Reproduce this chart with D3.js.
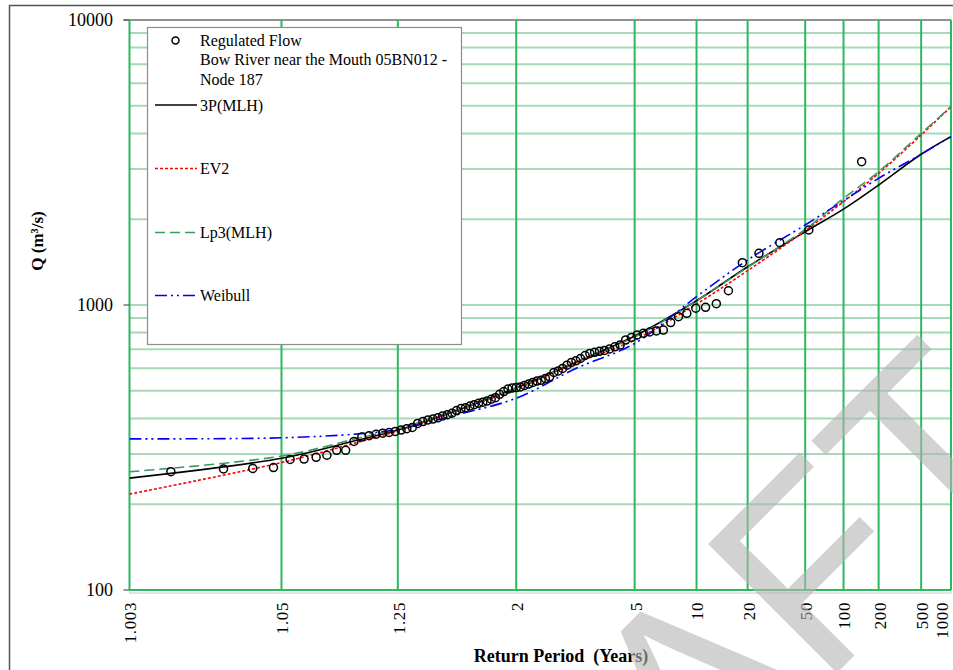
<!DOCTYPE html>
<html><head><meta charset="utf-8">
<script src="https://cdn.jsdelivr.net/npm/d3@7/dist/d3.min.js"></script>
<style>
html,body{margin:0;padding:0;background:#fff;}
svg{display:block;}
text{font-family:"Liberation Serif","Times New Roman",serif;fill:#000;}
text.wm{font-family:"Liberation Sans",Arial,sans-serif;fill:#b4b4b4;fill-opacity:0.6;}
</style></head>
<body>
<svg id="chart" width="953" height="670"></svg>
<script>
// ---------------- DATA ----------------
const xTickValues = [1.003, 1.05, 1.25, 2, 5, 10, 20, 50, 100, 200, 500, 1000];
const xTickLabels = ["1.003", "1.05", "1.25", "2", "5", "10", "20", "50", "100", "200", "500", "1000"];
const yTickValues = [100, 1000, 10000];
const yTickLabels = ["100", "1000", "10000"];
const yMinorGrid = [200,300,400,500,600,700,800,900,1000,2000,3000,4000,5000,6000,7000,8000,9000];

// observed annual peaks (return period in years, flow in m3/s)
const obsReturnPeriod = [1.0071,1.0191,1.0315,1.0441,1.0571,1.0704,1.0840,1.0979,1.1123,1.1270,
  1.1421,1.1576,1.1736,1.1899,1.2068,1.2241,1.2420,1.2604,1.2793,1.2988,
  1.3189,1.3396,1.3610,1.3831,1.4059,1.4295,1.4539,1.4792,1.5053,1.5324,
  1.5604,1.5896,1.6198,1.6512,1.6838,1.7177,1.7531,1.7899,1.8283,1.8684,
  1.9103,1.9541,2.0000,2.0481,2.0985,2.1515,2.2073,2.2660,2.3279,2.3933,
  2.4624,2.5357,2.6135,2.6962,2.7843,2.8784,2.9790,3.0870,3.2030,3.3281,
  3.4634,3.6102,3.7699,3.9444,4.1359,4.3469,4.5806,4.8409,5.1325,5.4615,
  5.8356,6.2647,6.7619,7.3448,8.0377,8.875,9.907,11.21,12.91,15.21,
  18.52,23.67,32.77,53.25,142.0];
const obsFlow = [260,266,267,269,287,288,292,297,309,309,
  332,344,348,352,355,357,360,364,368,372,
  384,390,395,398,402,408,412,417,426,433,
  436,442,447,452,456,460,467,473,486,497,
  507,511,513,516,522,528,535,541,544,552,
  560,580,587,599,615,629,637,649,665,676,
  682,688,693,701,713,724,754,769,785,796,
  804,811,817,868,910,935,974,981,1011,1122,
  1408,1518,1654,1833,3183];

// fitted frequency curves
const curveReturnPeriod = [1.003, 1.05, 1.15, 1.25, 1.5, 2, 3, 5, 10, 20, 50, 100, 200, 500, 1000];
const fit3P   = [247, 290, 336, 364, 425, 512, 631, 778, 1035, 1362, 1808, 2170, 2636, 3380, 3896];
const fitEV2  = [217, 280, 330, 362, 425, 507, 628, 754, 1008, 1320, 1823, 2305, 2897, 3949, 4966];
const fitLp3  = [260, 295, 341, 368, 428, 512, 635, 772, 1035, 1356, 1843, 2368, 2936, 4002, 4966];
const fitWeib = [339, 342, 353, 366, 411, 471, 601, 733, 1070, 1439, 1909, 2323, 2783, 3380, 3896];

const seriesNames = ["3P(MLH)", "EV2", "Lp3(MLH)", "Weibull"];
const legendTitle = ["Regulated Flow", "Bow River near the Mouth 05BN012 -", "Node 187"];

// ---------------- HELPERS ----------------
function normInv(p){
  const a=[-3.969683028665376e+01,2.209460984245205e+02,-2.759285104469687e+02,1.383577518672690e+02,-3.066479806614716e+01,2.506628277459239e+00];
  const b=[-5.447609879822406e+01,1.615858368580409e+02,-1.556989798598866e+02,6.680131188771972e+01,-1.328068155288572e+01];
  const c=[-7.784894002430293e-03,-3.223964580411365e-01,-2.400758277161838e+00,-2.549732539343734e+00,4.374664141464968e+00,2.938163982698783e+00];
  const d=[7.784695709041462e-03,3.224671290700398e-01,2.445134137142996e+00,3.754408661907416e+00];
  const pl=0.02425, ph=1-pl; let q,r;
  if(p<pl){q=Math.sqrt(-2*Math.log(p));return (((((c[0]*q+c[1])*q+c[2])*q+c[3])*q+c[4])*q+c[5])/((((d[0]*q+d[1])*q+d[2])*q+d[3])*q+1);}
  if(p<=ph){q=p-0.5;r=q*q;return (((((a[0]*r+a[1])*r+a[2])*r+a[3])*r+a[4])*r+a[5])*q/(((((b[0]*r+b[1])*r+b[2])*r+b[3])*r+b[4])*r+1);}
  q=Math.sqrt(-2*Math.log(1-p));return -(((((c[0]*q+c[1])*q+c[2])*q+c[3])*q+c[4])*q+c[5])/((((d[0]*q+d[1])*q+d[2])*q+d[3])*q+1);
}
const zOfT = T => normInv(1 - 1/T);

// ---------------- LAYOUT ----------------
const L = 129.5, R = 951, T0 = 20, B = 590;
const svg = d3.select("#chart");
const xz = d3.scaleLinear().domain([zOfT(1.003), zOfT(1000)]).range([L, R]);
const x = T => xz(zOfT(T));
const y = d3.scaleLog().domain([100, 10000]).range([B, T0]);

// outer frame
svg.append("path").attr("d", `M9.5,700 V5.5 H960`).attr("fill","none").attr("stroke","#555").attr("stroke-width",1.5);

// plot area
svg.append("rect").attr("x", L).attr("y", T0).attr("width", R-L).attr("height", B-T0+3)
  .attr("fill","#fff").attr("stroke","#c8c8c8").attr("stroke-width",1);

// horizontal minor gridlines
svg.append("g").selectAll("line").data(yMinorGrid).join("line")
  .attr("x1", L).attr("x2", R).attr("y1", d=>y(d)).attr("y2", d=>y(d))
  .attr("stroke","#a6d9b8").attr("stroke-width",2);

// top border line
svg.append("line").attr("x1", L-6).attr("x2", R).attr("y1", y(10000)).attr("y2", y(10000))
  .attr("stroke","#777").attr("stroke-width",1.3);

// vertical gridlines
svg.append("g").selectAll("line").data(xTickValues).join("line")
  .attr("x1", d=>x(d)).attr("x2", d=>x(d)).attr("y1", T0).attr("y2", B)
  .attr("stroke","#2fb862").attr("stroke-width",2);

// bottom line (100)
svg.append("line").attr("x1", L).attr("x2", R).attr("y1", y(100)).attr("y2", y(100))
  .attr("stroke","#2fb862").attr("stroke-width",2);

// y ticks & labels
const yAxis = svg.append("g");
yAxis.selectAll("line").data(yTickValues).join("line")
  .attr("x1", L-6).attr("x2", L).attr("y1", d=>y(d)).attr("y2", d=>y(d))
  .attr("stroke","#555").attr("stroke-width",1.2);
yAxis.selectAll("text").data(yTickValues).join("text")
  .attr("x", 113).attr("y", d=>y(d)).attr("text-anchor","end").attr("dy","0.35em")
  .attr("font-size", 18).text((d,i)=>yTickLabels[i]);

// x tick labels (rotated)
svg.append("g").selectAll("text").data(xTickValues).join("text")
  .attr("transform", d=>`translate(${Math.min(x(d)+1, 942)},602) rotate(-90)`)
  .attr("text-anchor","end").attr("dy","0.35em")
  .attr("font-size", 17).attr("letter-spacing","0.6px")
  .text((d,i)=>xTickLabels[i]);

// axis titles
svg.append("text").attr("transform","translate(37,241) rotate(-90)")
  .attr("text-anchor","middle").attr("dy","0.35em").attr("font-size",17).attr("font-weight","bold")
  .text("Q (m³/s)");
svg.append("text").attr("x", 561).attr("y", 662).attr("text-anchor","middle")
  .attr("font-size",18).attr("font-weight","bold").style("white-space","pre")
  .text("Return Period  (Years)");

// watermark
svg.append("text").attr("class","wm").attr("transform","translate(426,1084) rotate(-45)")
  .attr("font-size",265).text("DRAFT");

// curves
const line = d3.line().x(d=>x(d[0])).y(d=>y(d[1])).curve(d3.curveCatmullRom.alpha(0.5));
const styles = [
  {vals: fit3P,   color:"#000000", dash:null,          w:1.6},
  {vals: fitEV2,  color:"#ff0000", dash:"3,2",         w:1.6},
  {vals: fitLp3,  color:"#3a9a62", dash:"10,5",        w:1.6},
  {vals: fitWeib, color:"#0000ff", dash:"12,4,2,4,2,4", w:1.6}
];
svg.append("clipPath").attr("id","pc").append("rect")
  .attr("x", L).attr("y", T0).attr("width", R-L).attr("height", B-T0);
const cg = svg.append("g").attr("clip-path","url(#pc)");
styles.forEach(s=>{
  cg.append("path").datum(curveReturnPeriod.map((t,i)=>[t, s.vals[i]]))
    .attr("d", line).attr("fill","none").attr("stroke", s.color).attr("stroke-width", s.w)
    .attr("stroke-dasharray", s.dash);
});

// observed points
svg.append("g").selectAll("circle").data(obsReturnPeriod.map((t,i)=>[t, obsFlow[i]])).join("circle")
  .attr("cx", d=>x(d[0])).attr("cy", d=>y(d[1])).attr("r", 4)
  .attr("fill","none").attr("stroke","#000").attr("stroke-width",1.5);

// legend
const lg = svg.append("g");
lg.append("rect").attr("x",147.5).attr("y",27.5).attr("width",314).attr("height",317)
  .attr("fill","#fff").attr("stroke","#8c8c8c").attr("stroke-width",1.2);
lg.append("circle").attr("cx",175.5).attr("cy",40.5).attr("r",3.5).attr("fill","none").attr("stroke","#000").attr("stroke-width",1.5);
legendTitle.forEach((t,i)=>{
  lg.append("text").attr("x",200).attr("y",46+i*19.3).attr("font-size",16).text(t);
});
const legY = [105, 168.5, 232.5, 295.5];
styles.forEach((s,i)=>{
  lg.append("line").attr("x1",155).attr("x2",197).attr("y1",legY[i]).attr("y2",legY[i])
    .attr("stroke", s.color).attr("stroke-width", s.w).attr("stroke-dasharray", s.dash);
  lg.append("text").attr("x",200).attr("y",legY[i]).attr("dy","0.35em").attr("font-size",16).text(seriesNames[i]);
});
</script>
</body></html>
